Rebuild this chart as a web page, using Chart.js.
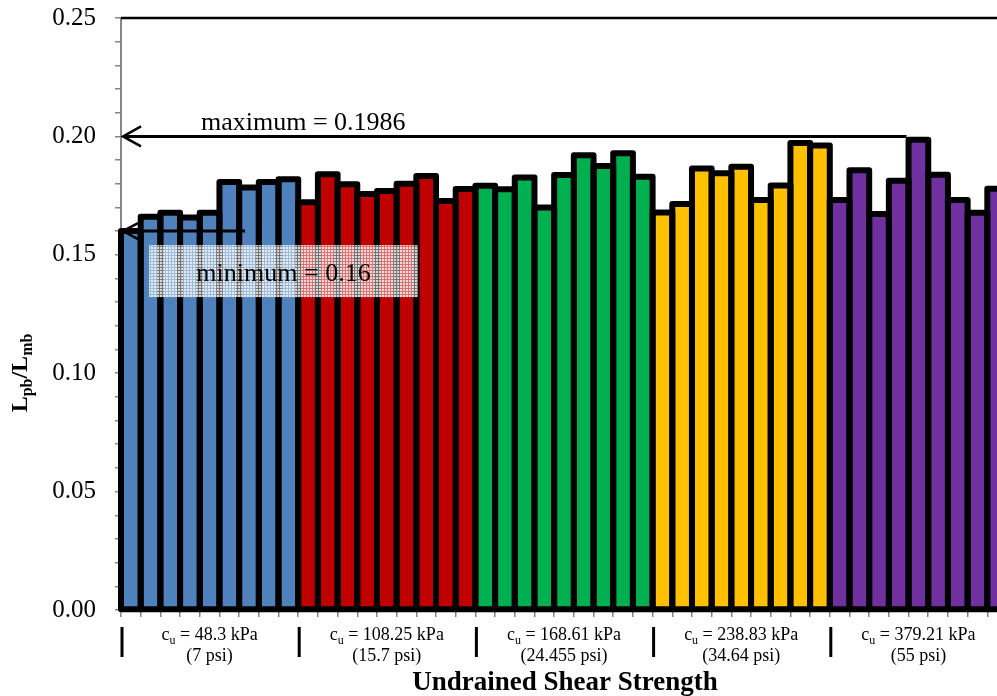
<!DOCTYPE html>
<html><head><meta charset="utf-8">
<script src="https://cdn.jsdelivr.net/npm/chart.js@4.4.1/dist/chart.umd.min.js"></script>
<style>html,body{margin:0;padding:0;overflow:hidden;background:#fff;width:997px;height:696px}canvas{display:block}</style>
</head><body><canvas id="c" width="1010" height="696"></canvas>
<script>
// ---- data ----
const groupKpa = ['48.3', '108.25', '168.61', '238.83', '379.21'];
const groupPsi = ['7', '15.7', '24.455', '34.64', '55'];
const groupColors = ['#4F81BD', '#C00000', '#00B050', '#FFC000', '#7030A0'];
const blueVals   = [0.1600, 0.1661, 0.1678, 0.1658, 0.1678, 0.1807, 0.1784, 0.1807, 0.1819];
const redVals    = [0.1722, 0.1840, 0.1798, 0.1757, 0.1769, 0.1800, 0.1833, 0.1727, 0.1778];
const greenVals  = [0.1792, 0.1777, 0.1826, 0.1700, 0.1837, 0.1920, 0.1875, 0.1929, 0.1830];
const yellowVals = [0.1679, 0.1715, 0.1864, 0.1844, 0.1872, 0.1731, 0.1793, 0.1972, 0.1962];
const purpleVals = [0.1731, 0.1857, 0.1672, 0.1813, 0.1986, 0.1838, 0.1731, 0.1678, 0.1779];
const groupValues = [blueVals, redVals, greenVals, yellowVals, purpleVals];
const yMin = 0, yMax = 0.25, yMajor = 0.05, yMinor = 0.01;
const maxValue = 0.1986, minValue = 0.16;
const maxArrowLevel = 0.20, minArrowLevel = 0.16;
const maxText = 'maximum = 0.1986', minText = 'minimum = 0.16';
const xTitle = 'Undrained Shear Strength';

// ---- build ----
const labels = [], values = [], colors = [], groupOf = [];
groupValues.forEach((arr, g) => arr.forEach((v, i) => {
  labels.push('cu = ' + groupKpa[g] + ' kPa #' + (i + 1));
  values.push(v); colors.push(groupColors[g]); groupOf.push(g);
}));
const serif = '"Liberation Serif","Times New Roman",serif';
const GRAY = '#868686';

const outlinePlugin = {
  id: 'outline',
  afterDatasetsDraw(chart) {
    const ctx = chart.ctx, meta = chart.getDatasetMeta(0);
    ctx.save();
    ctx.lineWidth = 6; ctx.lineJoin = 'round'; ctx.strokeStyle = '#000';
    meta.data.forEach(b => {
      const p = b.getProps(['x', 'y', 'base', 'width'], true);
      ctx.strokeRect(p.x - p.width / 2, p.y, p.width, p.base - p.y);
    });
    ctx.restore();
  }
};

function makePattern(ctx) {
  const c = document.createElement('canvas'); c.width = 3; c.height = 3;
  const t = c.getContext('2d');
  t.fillStyle = 'rgba(255,255,255,0.85)'; t.fillRect(0, 0, 3, 3);
  t.clearRect(0, 0, 1, 3); t.clearRect(0, 0, 3, 1);
  t.fillStyle = 'rgba(255,255,255,0.45)'; t.fillRect(0, 0, 1, 3); t.fillRect(1, 0, 2, 1);
  return ctx.createPattern(c, 'repeat');
}

const annotPlugin = {
  id: 'annot',
  afterDraw(chart) {
    const ctx = chart.ctx, a = chart.chartArea;
    const xs = chart.scales.x, ys = chart.scales.y;
    const meta = chart.getDatasetMeta(0);
    ctx.save();
    // top border
    ctx.strokeStyle = '#000'; ctx.lineWidth = 2.5;
    ctx.beginPath(); ctx.moveTo(a.left, a.top); ctx.lineTo(a.right, a.top); ctx.stroke();

    // max arrow
    const maxIdx = values.indexOf(maxValue);
    const mb = meta.data[maxIdx];
    const yMaxA = ys.getPixelForValue(maxArrowLevel);
    ctx.lineWidth = 3; ctx.lineCap = 'butt'; ctx.lineJoin = 'miter';
    ctx.beginPath(); ctx.moveTo(a.left + 2, yMaxA); ctx.lineTo(mb.x - mb.width / 2 - 2, yMaxA); ctx.stroke();
    ctx.lineWidth = 2.5;
    ctx.beginPath(); ctx.moveTo(a.left + 20, yMaxA - 10); ctx.lineTo(a.left + 2, yMaxA); ctx.lineTo(a.left + 20, yMaxA + 10); ctx.stroke();
    ctx.fillStyle = '#000'; ctx.font = '26px ' + serif; ctx.textAlign = 'left'; ctx.textBaseline = 'alphabetic';
    ctx.fillText(maxText, a.left + 80, yMaxA - 6);

    // min arrow
    const yMinA = ys.getPixelForValue(minArrowLevel);
    const minEnd = xs.getPixelForValue(5.8);
    ctx.lineWidth = 3;
    ctx.beginPath(); ctx.moveTo(a.left + 2, yMinA); ctx.lineTo(minEnd, yMinA); ctx.stroke();
    ctx.lineWidth = 2.5;
    ctx.beginPath(); ctx.moveTo(a.left + 17, yMinA - 8); ctx.lineTo(a.left + 2, yMinA); ctx.lineTo(a.left + 17, yMinA + 8); ctx.stroke();
    // min box
    const bx = a.left + 28, by = yMinA + 14, bw = 269, bh = 52;
    ctx.fillStyle = makePattern(ctx);
    ctx.fillRect(bx, by, bw, bh);
    ctx.fillStyle = '#000'; ctx.font = '26px ' + serif; ctx.textAlign = 'center';
    ctx.fillText(minText, bx + bw / 2, by + 36);

    // group labels & separators
    const nPer = blueVals.length;
    groupKpa.forEach((k, g) => {
      const x0 = xs.getPixelForValue(g * nPer - 0.5);
      const x1 = xs.getPixelForValue((g + 1) * nPer - 0.5);
      ctx.strokeStyle = '#000'; ctx.lineWidth = 3;
      ctx.beginPath(); ctx.moveTo(x0 + 1, a.bottom + 17); ctx.lineTo(x0 + 1, a.bottom + 47); ctx.stroke();
      const cx = (x0 + x1) / 2;
      const big = '18px ' + serif, small = '12px ' + serif;
      const p1 = 'c', p2 = 'u', p3 = ' = ' + k + ' kPa';
      ctx.font = big; const w1 = ctx.measureText(p1).width, w3 = ctx.measureText(p3).width;
      ctx.font = small; const w2 = ctx.measureText(p2).width;
      let sx = cx - (w1 + w2 + w3) / 2;
      const base1 = a.bottom + 30;
      ctx.textAlign = 'left'; ctx.fillStyle = '#000';
      ctx.font = big; ctx.fillText(p1, sx, base1); sx += w1;
      ctx.font = small; ctx.fillText(p2, sx, base1 + 4); sx += w2;
      ctx.font = big; ctx.fillText(p3, sx, base1);
      ctx.textAlign = 'center';
      ctx.fillText('(' + groupPsi[g] + ' psi)', cx, a.bottom + 51);
    });

    // x title
    ctx.font = 'bold 27px ' + serif; ctx.textAlign = 'center';
    ctx.fillText(xTitle, 565, 690);

    // y title with subscripts
    ctx.translate(27, 373); ctx.rotate(-Math.PI / 2);
    const parts = [['L', 0], ['pb', 1], ['/L', 0], ['mb', 1]];
    let tw = 0;
    parts.forEach(p => { ctx.font = p[1] ? 'bold 16px ' + serif : 'bold 24px ' + serif; tw += ctx.measureText(p[0]).width; });
    let px = -tw / 2; ctx.textAlign = 'left';
    parts.forEach(p => {
      ctx.font = p[1] ? 'bold 16px ' + serif : 'bold 24px ' + serif;
      ctx.fillText(p[0], px, p[1] ? 5 : 0);
      px += ctx.measureText(p[0]).width;
    });
    ctx.restore();
  }
};

new Chart(document.getElementById('c'), {
  type: 'bar',
  data: { labels, datasets: [{ data: values, backgroundColor: colors, borderWidth: 0, barPercentage: 1, categoryPercentage: 1 }] },
  options: {
    responsive: false, animation: false,
    layout: { padding: { top: 18, right: 3, left: 0, bottom: 0 } },
    plugins: { legend: { display: false }, tooltip: { enabled: false } },
    scales: {
      x: {
        grid: { offset: true, drawOnChartArea: false, drawTicks: true, tickLength: 7, color: GRAY, lineWidth: 1.5 },
        border: { color: GRAY, width: 2 },
        ticks: { display: false },
        afterFit: s => { s.height = 86; s.paddingLeft = 0; s.paddingRight = 0; }
      },
      y: {
        min: yMin, max: yMax,
        grid: { drawOnChartArea: false, drawTicks: true, tickLength: 6, color: GRAY, lineWidth: 1.5 },
        border: { color: GRAY, width: 2 },
        ticks: {
          stepSize: yMinor, maxTicksLimit: 40, autoSkip: false, padding: 19, color: '#000',
          font: { family: serif, size: 25 },
          callback: v => (Math.round(v * 100) % Math.round(yMajor * 100) === 0) ? v.toFixed(2) : ''
        },
        afterFit: s => { s.width = 121; s.paddingTop = 0; s.paddingBottom = 0; }
      }
    }
  },
  plugins: [outlinePlugin, annotPlugin]
});
</script></body></html>
